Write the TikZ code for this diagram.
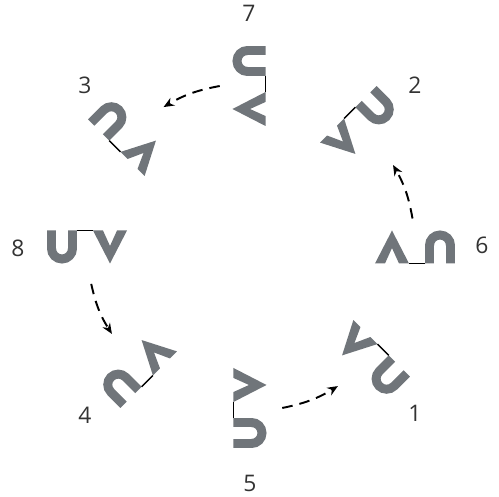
\documentclass[tikz,border=0pt]{standalone}
\usepackage{fontspec}
\setmainfont{Open Sans}
\usepackage{xcolor}
\usetikzlibrary{arrows.meta}

\definecolor{glyphgray}{RGB}{112,117,122}

\tikzset{
  num/.style={font=\fontsize{13}{15}\selectfont, text=black!80},
  flow/.style={dashed, dash pattern=on 6pt off 4pt, line width=1.1pt, -{Stealth[length=6pt, width=5pt]}},
  glyph/.pic={
    \begin{scope}[x=0.02cm, y=0.02cm]
      % the U
      \draw[glyphgray, line width=5.1pt] (-35.5,16.5) -- (-35.5,-1.5)
        arc[start angle=180, end angle=360, radius=10.5] -- (-14.5,16.5);
      % the V
      \fill[glyphgray] (6,16.5) -- (16,16.5) -- (23,1) -- (30,16.5)
        -- (40,16.5) -- (23,-16.5) -- cycle;
      % the link between them
      \draw[line width=0.85pt] (-10,16.5) -- (6,16.5);
    \end{scope}
  }
}

\begin{document}
\begin{tikzpicture}
  \useasboundingbox (-5.02,-5.00) rectangle (4.96,4.94);
  % glyph centres
  \coordinate (g8) at (-3.28,0);
  \coordinate (g7) at (-0.04,3.22);
  \coordinate (g6) at (3.28,0);
  \coordinate (g5) at (-0.02,-3.22);
  \coordinate (g3) at (-2.46,2.22);
  \coordinate (g2) at (2.18,2.42);
  \coordinate (g1) at (2.38,-2.26);
  \coordinate (g4) at (-2.28,-2.42);
  % turned copies
  \pic at (g8) {glyph};
  \pic[rotate=-90] at (g7) {glyph};
  \pic[rotate=180] at (g6) {glyph};
  \pic[rotate=90] at (g5) {glyph};
  % mirrored copies
  \pic[rotate=135, xscale=-1] at (g3) {glyph};
  \pic[rotate=45, xscale=-1] at (g2) {glyph};
  \pic[rotate=-45, xscale=-1] at (g1) {glyph};
  \pic[rotate=-135, xscale=-1] at (g4) {glyph};
  % numbers
  \node[num] (n7) at (-0.04,4.68) {7};
  \node[num] (n3) at (-3.32,3.24) {3};
  \node[num] (n2) at (3.28,3.24) {2};
  \node[num] (n8) at (-4.66,-0.02) {8};
  \node[num] (n6) at (4.62,0.04) {6};
  \node[num] (n4) at (-3.32,-3.36) {4};
  \node[num] (n5) at (-0.02,-4.72) {5};
  \node[num] (n1) at (3.28,-3.32) {1};
  % dashed arrows along the circle
  \coordinate (s7) at (101:3.28);
  \coordinate (e7) at (122:3.30);
  \coordinate (s6) at (10:3.28);
  \coordinate (e6) at (30:3.28);
  \coordinate (s8) at (193:3.28);
  \coordinate (e8) at (212:3.28);
  \coordinate (s5) at (281:3.28);
  \coordinate (e5) at (302:3.28);
  \draw[flow] (s7) to[bend right=10] (e7);
  \draw[flow] (s6) to[bend right=10] (e6);
  \draw[flow] (s8) to[bend right=10] (e8);
  \draw[flow] (s5) to[bend right=10] (e5);
\end{tikzpicture}
\end{document}
